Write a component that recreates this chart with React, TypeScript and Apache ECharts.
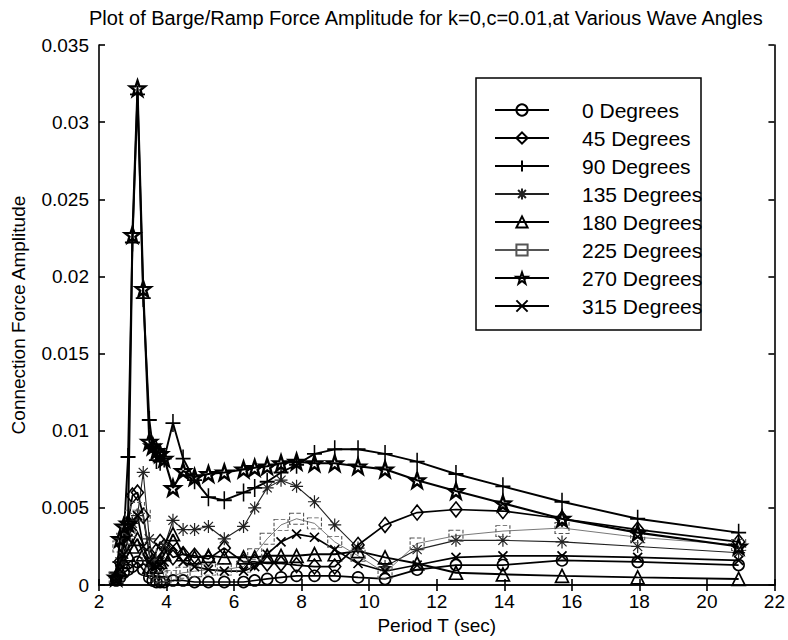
import React, { useEffect, useRef } from "react";
import * as echarts from "echarts";

const periods = [2.51, 2.62, 2.73, 2.86, 2.99, 3.14, 3.31, 3.49, 3.59, 3.70, 3.81, 3.93, 4.19, 4.49, 4.83, 5.24, 5.71, 6.28, 6.61, 6.98, 7.39, 7.85, 8.38, 8.98, 9.67, 10.47, 11.42, 12.57, 13.96, 15.71, 17.95, 20.94];

const deg0 = [0.0003, 0.0005, 0.0008, 0.0010, 0.0012, 0.0015, 0.0010, 0.0005, 0.0003, 0.0002, 0.0002, 0.0002, 0.0003, 0.0003, 0.0002, 0.0002, 0.0002, 0.0002, 0.0003, 0.0004, 0.0005, 0.0006, 0.0006, 0.0006, 0.0005, 0.0004, 0.0010, 0.0013, 0.0013, 0.0016, 0.0015, 0.0013];
const deg45 = [0.0005, 0.0015, 0.0025, 0.0040, 0.0058, 0.0060, 0.0045, 0.0020, 0.0015, 0.0022, 0.0028, 0.0025, 0.0018, 0.0020, 0.0019, 0.0017, 0.0024, 0.0015, 0.0015, 0.0014, 0.0014, 0.0013, 0.0012, 0.0012, 0.0026, 0.0039, 0.0047, 0.0049, 0.0048, 0.0043, 0.0036, 0.0028];
const deg90 = [0.0008, 0.0015, 0.0030, 0.0083, 0.0222, 0.0318, 0.0186, 0.0107, 0.0090, 0.0081, 0.0080, 0.0082, 0.0105, 0.0082, 0.0068, 0.0057, 0.0055, 0.0060, 0.0063, 0.0067, 0.0073, 0.0078, 0.0085, 0.0088, 0.0088, 0.0085, 0.0080, 0.0072, 0.0064, 0.0054, 0.0043, 0.0034];
const deg135 = [0.0005, 0.0015, 0.0030, 0.0035, 0.0040, 0.0045, 0.0073, 0.0030, 0.0015, 0.0012, 0.0015, 0.0025, 0.0042, 0.0036, 0.0036, 0.0038, 0.0030, 0.0038, 0.0050, 0.0063, 0.0068, 0.0064, 0.0054, 0.0039, 0.0024, 0.0012, 0.0023, 0.0029, 0.0029, 0.0028, 0.0025, 0.0021];
const deg180 = [0.0005, 0.0010, 0.0015, 0.0020, 0.0025, 0.0030, 0.0020, 0.0012, 0.0010, 0.0012, 0.0015, 0.0020, 0.0033, 0.0020, 0.0018, 0.0019, 0.0018, 0.0018, 0.0018, 0.0019, 0.0019, 0.0019, 0.0020, 0.0020, 0.0022, 0.0018, 0.0014, 0.0008, 0.0007, 0.0006, 0.0005, 0.0004];
const deg225 = [0.0005, 0.0025, 0.0030, 0.0035, 0.0045, 0.0050, 0.0045, 0.0020, 0.0010, 0.0008, 0.0006, 0.0005, 0.0006, 0.0008, 0.0009, 0.0010, 0.0010, 0.0012, 0.0020, 0.0030, 0.0039, 0.0043, 0.0040, 0.0028, 0.0019, 0.0008, 0.0027, 0.0032, 0.0035, 0.0037, 0.0031, 0.0026];
const deg270 = [0.0005, 0.0030, 0.0038, 0.0040, 0.0227, 0.0322, 0.0192, 0.0093, 0.0090, 0.0087, 0.0085, 0.0082, 0.0063, 0.0074, 0.0070, 0.0072, 0.0073, 0.0075, 0.0076, 0.0077, 0.0079, 0.0080, 0.0079, 0.0079, 0.0077, 0.0075, 0.0068, 0.0061, 0.0053, 0.0043, 0.0034, 0.0025];
const deg315 = [0.0004, 0.0010, 0.0020, 0.0030, 0.0038, 0.0045, 0.0025, 0.0015, 0.0012, 0.0012, 0.0013, 0.0015, 0.0025, 0.0015, 0.0012, 0.0010, 0.0009, 0.0009, 0.0012, 0.0020, 0.0028, 0.0033, 0.0031, 0.0023, 0.0014, 0.0009, 0.0013, 0.0018, 0.0019, 0.0019, 0.0018, 0.0016];

const seriesNames = ["0 Degrees", "45 Degrees", "90 Degrees", "135 Degrees", "180 Degrees", "225 Degrees", "270 Degrees", "315 Degrees"];
const xTicks = { min: 2, max: 22, interval: 2 };
const yTicks = { min: 0, max: 0.035, interval: 0.005 };

const FONT = "'Liberation Sans', Arial, sans-serif";

const PLUS = "path://M5,0 L5,10 M0,5 L10,5";
const XMARK = "path://M0,0 L10,10 M10,0 L0,10";
const ASTER = "path://M5,0 L5,10 M0,5 L10,5 M1.5,1.5 L8.5,8.5 M8.5,1.5 L1.5,8.5";
const STAR = "path://M10,0 L12.35,6.76 L19.51,6.91 L13.8,11.24 L15.88,18.09 L10,14 L4.12,18.09 L6.2,11.24 L0.49,6.91 L7.65,6.76 Z";

export default function App() {
  const ref = useRef<HTMLDivElement>(null);
  useEffect(() => {
    document.body.style.margin = "0";
    const chart = echarts.init(ref.current!, null, { renderer: "svg" });
    const mk = (name: string, vals: number[], symbol: string, symbolSize: any, lw: number, color: string, bw: number, extra: any = {}) => ({
      name,
      type: "line",
      data: periods.map((t, i) => [t, vals[i]]),
      symbol,
      symbolSize,
      showAllSymbol: true,
      lineStyle: { color, width: lw },
      itemStyle: { color: "rgba(0,0,0,0)", borderColor: color, borderWidth: bw, ...(extra.borderType ? { borderType: extra.borderType } : {}) },
      emphasis: { disabled: true },
      z: extra.z ?? 2,
    });
    const series = [
      mk(seriesNames[0], deg0, "circle", 11, 1.7, "#000", 1.6),
      mk(seriesNames[1], deg45, "diamond", [12, 15], 1.7, "#000", 1.6),
      mk(seriesNames[2], deg90, PLUS, [15, 18], 1.9, "#000", 1.7),
      mk(seriesNames[3], deg135, ASTER, 13, 1.1, "#222", 1.2),
      mk(seriesNames[4], deg180, "triangle", 13, 1.9, "#000", 1.7),
      mk(seriesNames[5], deg225, "rect", [14, 11], 0.8, "#555", 1, { borderType: "dashed" }),
      mk(seriesNames[6], deg270, STAR, 15, 2.1, "#000", 2.4, { z: 3 }),
      mk(seriesNames[7], deg315, XMARK, 9, 1.7, "#000", 1.7),
    ];
    const axisCommon = {
      axisLine: { show: true, lineStyle: { color: "#000", width: 1.6 } },
      axisTick: { show: true, inside: true, length: 6, lineStyle: { color: "#000", width: 1.6 } },
      splitLine: { show: false },
    };
    chart.setOption({
      animation: false,
      backgroundColor: "#fff",
      grid: { left: 99, right: 13, top: 45, bottom: 53 },
      xAxis: [
        {
          type: "value", position: "bottom", ...xTicks, ...axisCommon,
          axisLabel: { color: "#000", fontSize: 19, fontFamily: FONT, margin: 7 },
          name: "Period T (sec)", nameLocation: "middle", nameGap: 29,
          nameTextStyle: { color: "#000", fontSize: 19, fontFamily: FONT },
        },
        { type: "value", position: "top", ...xTicks, ...axisCommon, axisLabel: { show: false } },
      ],
      yAxis: [
        {
          type: "value", position: "left", ...yTicks, ...axisCommon,
          axisLabel: {
            color: "#000", fontSize: 19, fontFamily: FONT, margin: 10,
            formatter: (v: number) => (v === 0 ? "0" : String(+v.toFixed(3))),
          },
          name: "Connection Force Amplitude", nameLocation: "middle", nameGap: 71,
          nameTextStyle: { color: "#000", fontSize: 19, fontFamily: FONT },
        },
        { type: "value", position: "right", ...yTicks, ...axisCommon, axisLabel: { show: false } },
      ],
      title: {
        text: "Plot of Barge/Ramp Force Amplitude for k=0,c=0.01,at Various Wave Angles",
        left: 84, top: 3,
        textStyle: { color: "#000", fontSize: 20, fontWeight: "normal", fontFamily: FONT },
      },
      legend: {
        data: seriesNames,
        orient: "vertical",
        left: 489, top: 94,
        itemWidth: 54, itemHeight: 14, itemGap: 6,
        textStyle: { color: "#000", fontSize: 21, lineHeight: 22, fontFamily: FONT, padding: [0, 0, 0, 28] },
        selectedMode: false,
        backgroundColor: "transparent",
      },
      graphic: [
        { type: "rect", shape: { x: 476, y: 78, width: 225, height: 252 }, style: { fill: "none", stroke: "#000", lineWidth: 1.5 }, z: 100 },
      ],
      series,
    });
    return () => chart.dispose();
  }, []);
  return <div ref={ref} style={{ position: "fixed", left: 0, top: 0, width: 788, height: 640 }} />;
}
